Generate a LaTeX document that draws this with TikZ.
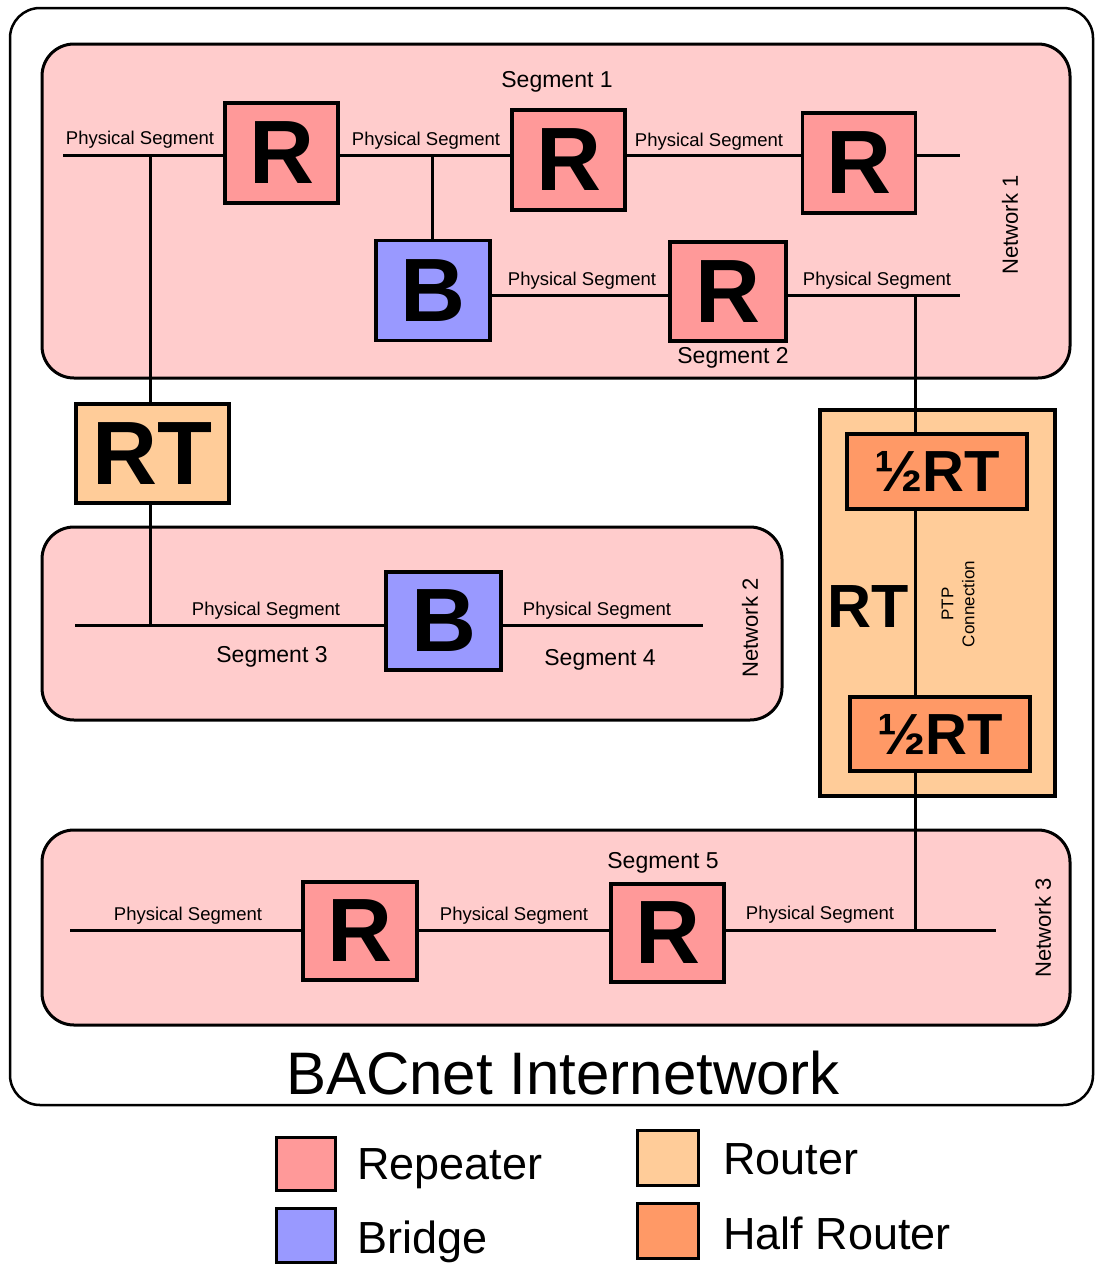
\documentclass[tikz,border=0pt]{standalone}
\usepackage{fontspec}
\setmainfont{Liberation Sans}
\definecolor{netc}{HTML}{FFCCCC}
\definecolor{repc}{HTML}{FF9999}
\definecolor{bric}{HTML}{9999FF}
\definecolor{rtrc}{HTML}{FFCC99}
\definecolor{halfc}{HTML}{FF9966}
\begin{document}
\begin{tikzpicture}[x=1pt,y=-1pt,
  dev/.style={draw, line width=3.5pt, inner sep=0pt, font=\fontsize{90}{90}\selectfont\bfseries},
  repbox/.style={dev, fill=repc, minimum width=113pt, minimum height=100pt},
  bribox/.style={dev, fill=bric, minimum width=114pt, minimum height=100pt},
  rtbox/.style={dev, fill=rtrc, minimum width=153pt, minimum height=99pt},
  halfbox/.style={dev, fill=halfc, minimum width=180pt, minimum height=75pt, font=\fontsize{58}{58}\selectfont\bfseries},
  netbox/.style={draw, line width=3pt, fill=netc, rounded corners=32pt},
  wire/.style={line width=3pt},
  pslabel/.style={inner sep=0pt, font=\fontsize{18.5}{20}\selectfont},
  seglabel/.style={inner sep=0pt, font=\fontsize{23}{25}\selectfont},
  netlabel/.style={inner sep=0pt, rotate=90, font=\fontsize{22}{24}\selectfont},
  legbox/.style={draw, line width=3pt},
  legtext/.style={anchor=west, inner sep=0pt, font=\fontsize{45}{50}\selectfont}
]
\useasboundingbox (0,0) rectangle (1095,1264);
% outer internetwork
\draw[line width=2.5pt, rounded corners=30pt] (10,8) rectangle (1093,1105);
% networks
\draw[netbox] (42,44) rectangle (1070,378);
\draw[netbox] (42,527) rectangle (782,720);
\draw[netbox] (42,830) rectangle (1070,1025);
% router (two half routers)
\node[draw, line width=3.5pt, fill=rtrc, minimum width=235pt, minimum height=386pt, inner sep=0pt] (bigrt) at (937.5,603) {};

% devices
\node[repbox] (R1) at (281.5,153) {R};
\node[repbox] (R2) at (568.5,160) {R};
\node[repbox] (R3) at (859,163) {R};
\node[bribox] (B1) at (433,290.5) {B};
\node[repbox, minimum width=116pt, minimum height=99pt] (R4) at (728,291.5) {R};
\node[rtbox] (RT) at (152.5,453.5) {RT};
\node[bribox, minimum width=115pt, minimum height=98pt] (B2) at (443.5,621) {B};
\node[halfbox] (H1) at (937,471.5) {½RT};
\node[halfbox, minimum height=74pt] (H2) at (940,734) {½RT};
\node[repbox, minimum width=114pt, minimum height=98pt] (R5) at (360,931) {R};
\node[repbox, minimum height=98pt] (R6) at (667.5,933) {R};

% coordinates
\coordinate (aL) at (63,155);
\coordinate (aR) at (960,155);
\coordinate (j1) at (150,155);
\coordinate (j2) at (432,155);
\coordinate (bR) at (960,295);
\coordinate (j3) at (915,295);
\coordinate (cL) at (75,625);
\coordinate (cR) at (703,625);
\coordinate (j4) at (150,625);
\coordinate (dL) at (70,930);
\coordinate (dR) at (996,930);
\coordinate (j5) at (915,930);

% wires network 1
\draw[wire] (aL) -- (aL -| R1.west);
\draw[wire] (R1.east |- aL) -- (R2.west |- aL);
\draw[wire] (R2.east |- aL) -- (R3.west |- aL);
\draw[wire] (R3.east |- aL) -- (aR);
\draw[wire] (j2) -- (j2 |- B1.north);
\draw[wire] (B1.east |- bR) -- (R4.west |- bR);
\draw[wire] (R4.east |- bR) -- (bR);
% router links
\draw[wire] (j1) -- (j1 |- RT.north);
\draw[wire] (j1 |- RT.south) -- (j4);
\draw[wire] (j3) -- (j3 |- H1.north);
\draw[wire] (j3 |- H1.south) -- (j3 |- H2.north);
\draw[wire] (j3 |- H2.south) -- (j5);
% network 2
\draw[wire] (cL) -- (cL -| B2.west);
\draw[wire] (B2.east |- cR) -- (cR);
% network 3
\draw[wire] (dL) -- (dL -| R5.west);
\draw[wire] (R5.east |- dL) -- (R6.west |- dL);
\draw[wire] (R6.east |- dL) -- (dR);

% labels
\node[pslabel] (p1) at (140,140) {Physical Segment};
\node[pslabel] (p2) at (426,141) {Physical Segment};
\node[pslabel] (p3) at (709,142) {Physical Segment};
\node[pslabel] (p4) at (582,281) {Physical Segment};
\node[pslabel] (p5) at (877,281) {Physical Segment};
\node[pslabel] (p6) at (266,611) {Physical Segment};
\node[pslabel] (p7) at (597,611) {Physical Segment};
\node[pslabel] (p8) at (188,916) {Physical Segment};
\node[pslabel] (p9) at (514,916) {Physical Segment};
\node[pslabel] (p10) at (820,915) {Physical Segment};

\node[seglabel] (s1) at (557,82) {Segment 1};
\node[seglabel] (s2) at (733,358) {Segment 2};
\node[seglabel] (s3) at (272,657) {Segment 3};
\node[seglabel] (s4) at (600,660) {Segment 4};
\node[seglabel] (s5) at (663,863) {Segment 5};

\node[netlabel] (n1) at (1010,225) {Network 1};
\node[netlabel] (n2) at (750,628) {Network 2};
\node[netlabel] (n3) at (1043,928) {Network 3};

\node[inner sep=0pt, font=\fontsize{61}{61}\selectfont\bfseries] (rtl) at (868,607) {RT};
\node[inner sep=0pt, rotate=90, align=center, font=\fontsize{17}{21}\selectfont] (ptp) at (958,604) {PTP\\Connection};

\node[inner sep=0pt, font=\fontsize{60}{60}\selectfont] (title) at (563,1073) {BACnet Internetwork};

% legend
\draw[legbox, fill=repc] (276,1137) rectangle (335,1190);
\node[legtext] (l1) at (357,1169) {Repeater};
\draw[legbox, fill=bric] (276,1208) rectangle (335,1262);
\node[legtext] (l2) at (357,1242) {Bridge};
\draw[legbox, fill=rtrc] (637,1130) rectangle (698,1185);
\node[legtext] (l3) at (723,1159) {Router};
\draw[legbox, fill=halfc] (637,1203) rectangle (698,1258);
\node[legtext] (l4) at (723,1233) {Half Router};
\end{tikzpicture}
\end{document}
